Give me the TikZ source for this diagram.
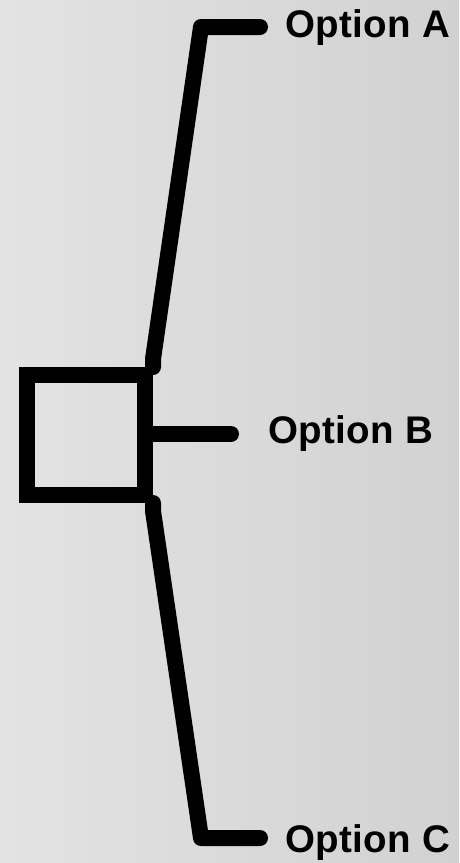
\documentclass[tikz,border=0pt]{standalone}
\usepackage{fontspec}
\setmainfont{Liberation Sans}
\begin{document}
\begin{tikzpicture}[x=1pt,y=-1pt,
  bar/.style={line width=16pt, line cap=round, line join=round, draw=black},
  optlabel/.style={anchor=base west, inner sep=0pt, font=\fontsize{38.5}{42}\selectfont\bfseries\addfontfeatures{LetterSpace=1}}]
\shade[left color=black!11, right color=black!18] (0,0) rectangle (459,863);
\useasboundingbox (0,0) rectangle (459,863);
\node[draw=black, line width=16pt, minimum width=118pt, minimum height=120pt, inner sep=0pt] (box) at (86,435) {};
\coordinate (ta) at (201,27);
\coordinate (ea) at (260,27);
\coordinate (tc) at (201,838);
\coordinate (ec) at (260,838);
\coordinate (eb) at (231,434);
\draw[bar] (box.north east) -- ++(0,-8) -- (ta) -- (ea);
\draw[bar] (box.south east) -- ++(0,8) -- (tc) -- (ec);
\draw[bar] (box.east) ++(0,-1) -- (eb);
\node[optlabel] (la) at (285,37) {Option A};
\node[optlabel] (lb) at (268,443) {Option B};
\node[optlabel] (lc) at (285,852) {Option C};
\end{tikzpicture}
\end{document}
